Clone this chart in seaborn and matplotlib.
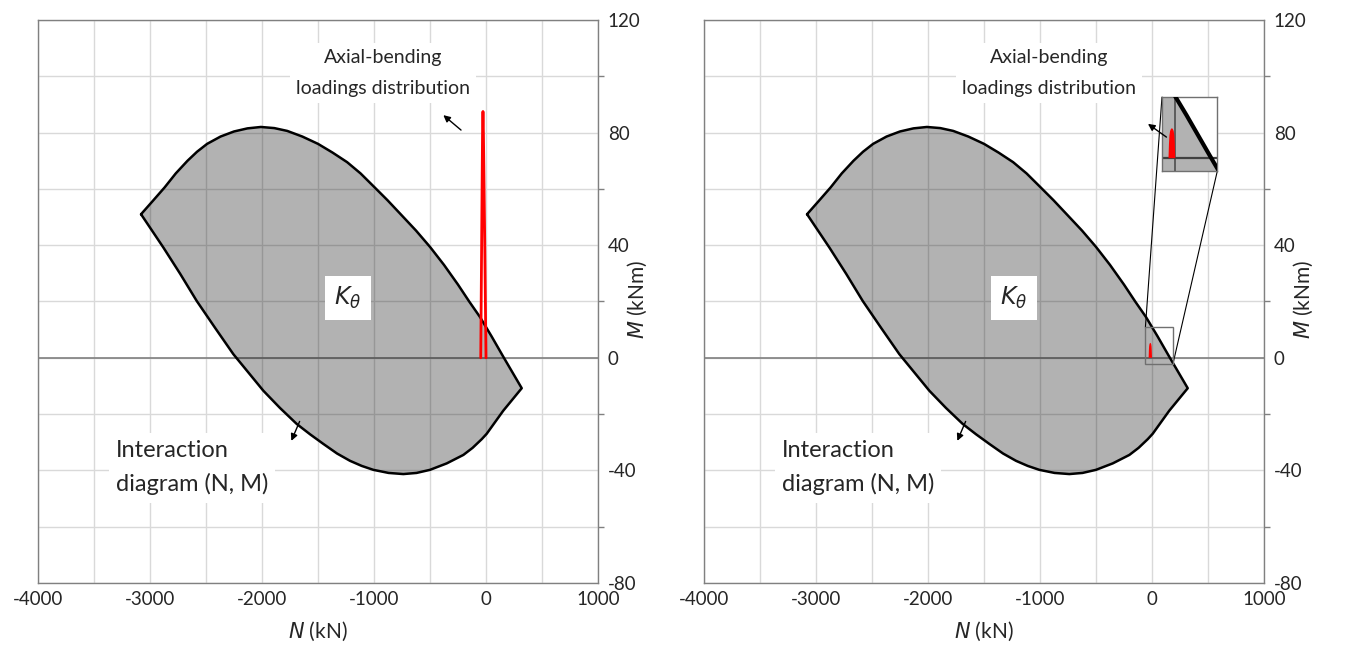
import numpy as np
import matplotlib
matplotlib.use("Agg")
import matplotlib.pyplot as plt
from matplotlib.patches import Rectangle
import seaborn as sns

# Interaction diagram boundary, upper branch (N in kN, M in kNm)
upper_N = [-3080, -2980, -2870, -2770, -2665, -2580, -2490, -2370, -2250, -2130,
           -2010, -1890, -1775, -1640, -1500, -1370, -1240, -1120, -1006, -880,
           -750, -625, -500, -375, -250, -150, -54, 50, 154, 319]
upper_M = [51.0, 55.5, 60.5, 65.5, 70.0, 73.2, 76.0, 78.6, 80.4, 81.5,
           82.0, 81.6, 80.6, 78.6, 76.0, 72.9, 69.5, 65.5, 61.0, 56.0,
           50.5, 45.2, 39.4, 33.0, 26.0, 20.0, 14.5, 7.6, 0.4, -10.8]
# Lower branch, from the right corner back to the left corner
lower_N = [319, 154, 6, -38, -120, -202, -350, -500, -620, -738,
           -870, -1006, -1110, -1214, -1330, -1452, -1570, -1690, -1840, -1988,
           -2120, -2256, -2420, -2583, -2730, -2881, -3080]
lower_M = [-10.8, -18.8, -27.0, -28.9, -32.0, -34.5, -37.5, -39.8, -40.9, -41.3,
           -40.9, -39.8, -38.4, -36.6, -34.0, -30.6, -27.2, -23.5, -17.8, -11.7,
           -5.3, 1.3, 10.7, 20.2, 29.8, 39.2, 51.0]

# Axial-bending loadings distribution (left chart)
loads_N = [-47, -39, -31, -27, -23, -11, 0]
loads_M = [0.0, 40.0, 80.0, 87.5, 80.0, 40.0, 0.0]

# Axial-bending loadings distribution (right chart)
loads2_N = [-30, -28, -26, -23, -20, -17, -15, -13, -10, -7, -4, -2, 0]
loads2_M = [0.0, 2.5, 4.0, 4.8, 5.1, 5.25, 5.3, 5.25, 5.1, 4.8, 4.0, 2.5, 0.0]

x_ticks = [-4000, -3000, -2000, -1000, 0, 1000]
y_ticks = [-80, -40, 0, 40, 80, 120]

txt_loads = "Axial-bending\nloadings distribution"
txt_diag = "Interaction\ndiagram (N, M)"
txt_k = r"$K_{\theta}$"

sns.set_theme(style="white")
plt.rcParams["font.family"] = ["Lato", "DejaVu Sans"]

fig = plt.figure(figsize=(13.51, 6.45), dpi=100)
ax1 = fig.add_axes([38 / 1351, 62 / 645, 560 / 1351, 563 / 645])
ax2 = fig.add_axes([704 / 1351, 62 / 645, 560 / 1351, 563 / 645])

bound_N = upper_N + lower_N[1:]
bound_M = upper_M + lower_M[1:]

GRID = "#d9d9d9"
SPINE = "#808080"
TICK_FS = 13.5
LABEL_FS = 15


def draw_diagram(ax, lw=1.8, zero_lw=1.2):
    ax.fill(bound_N, bound_M, color="black", alpha=0.3, lw=0, zorder=2)
    ax.axhline(0, color="#808080", lw=zero_lw, zorder=1.5)
    sns.lineplot(x=bound_N, y=bound_M, sort=False, estimator=None,
                 color="black", lw=lw, ax=ax, zorder=3)


def style_axes(ax):
    ax.set_xlim(-4000, 1000)
    ax.set_ylim(-80, 120)
    ax.set_xticks(x_ticks)
    ax.set_xticks(np.arange(-4000, 1001, 500), minor=True)
    ax.set_yticks(y_ticks)
    ax.set_yticks(np.arange(-80, 121, 20), minor=True)
    ax.set_xticklabels([str(v) for v in x_ticks], fontsize=TICK_FS)
    ax.set_yticklabels([str(v) for v in y_ticks], fontsize=TICK_FS)
    ax.yaxis.tick_right()
    ax.set_axisbelow(True)
    ax.grid(True, which="both", color=GRID, lw=1, zorder=0)
    ax.tick_params(axis="x", which="both", length=0, pad=6)
    ax.tick_params(axis="y", which="major", length=0, pad=7)
    ax.tick_params(axis="y", which="minor", length=4, width=1, color=SPINE,
                   direction="out", right=True, left=False)
    for s in ax.spines.values():
        s.set_color(SPINE)
        s.set_linewidth(1)
    ax.set_xlabel(r"$\it{N}$ (kN)", fontsize=LABEL_FS, labelpad=8)
    ax.set_ylabel("")
    ax.text(1.07, 0.503, r"$\it{M}$ (kNm)", transform=ax.transAxes,
            rotation=90, ha="center", va="center", fontsize=LABEL_FS)


def annotate_common(ax, arrow_tail, arrow_head):
    box = dict(boxstyle="square,pad=0.3", fc="white", ec="none")
    ax.text(-920, 101.2, txt_loads, ha="center", va="center",
            multialignment="center", fontsize=14, bbox=box, zorder=6,
            linespacing=2.0)
    ax.text(-3304, -39, txt_diag, ha="left", va="center",
            multialignment="left", fontsize=17, bbox=box, zorder=6,
            linespacing=1.7)
    ax.text(-1232, 21.3, txt_k, ha="center", va="center", fontsize=17,
            bbox=dict(boxstyle="square,pad=0.38", fc="white", ec="none"),
            zorder=6)
    arrow = dict(arrowstyle="-|>", color="black", lw=1, mutation_scale=10,
                 shrinkA=0, shrinkB=0)
    ax.annotate("", xy=(-1738, -29.5), xytext=(-1664, -22.6),
                arrowprops=arrow, zorder=7)
    ax.annotate("", xy=arrow_head, xytext=arrow_tail,
                arrowprops=arrow, zorder=7)


# Left chart: full-scale loading distribution
draw_diagram(ax1)
sns.lineplot(x=loads_N, y=loads_M, sort=False, estimator=None,
             color="red", lw=2, ax=ax1, zorder=4)
style_axes(ax1)
annotate_common(ax1, (-223, 80.9), (-381, 86.2))

# Right chart: scaled loading distribution with a zoomed window
draw_diagram(ax2)
ax2.fill(loads2_N, loads2_M, color="red", lw=0, zorder=4)
style_axes(ax2)

zoom_x = (-59, 187)
zoom_y = (-2.2, 10.8)
ins_x = (89, 584)
ins_y = (66.5, 92.6)

axins = ax2.inset_axes([ins_x[0], ins_y[0], ins_x[1] - ins_x[0], ins_y[1] - ins_y[0]],
                       transform=ax2.transData, zorder=5)
axins.set_facecolor("white")
axins.fill(bound_N, bound_M, color="black", alpha=0.3, lw=0, zorder=2)
axins.axvline(0, color="#707070", lw=1.2, zorder=1.5)
axins.axhline(0, color="#404040", lw=1.6, zorder=2.5)
sns.lineplot(x=bound_N, y=bound_M, sort=False, estimator=None,
             color="black", lw=3, ax=axins, zorder=3)
axins.fill(loads2_N, loads2_M, color="red", lw=0, zorder=4)
axins.set_xlim(*zoom_x)
axins.set_ylim(*zoom_y)
axins.set_xticks([])
axins.set_yticks([])
axins.set_xlabel("")
axins.set_ylabel("")
for s in axins.spines.values():
    s.set_color("#707070")
    s.set_linewidth(1)

ax2.add_patch(Rectangle((zoom_x[0], zoom_y[0]), zoom_x[1] - zoom_x[0],
                        zoom_y[1] - zoom_y[0], fill=False, ec="#707070",
                        lw=1, zorder=6))
ax2.plot([zoom_x[0], ins_x[0]], [zoom_y[1], ins_y[1]], color="black", lw=0.8, zorder=4.5)
ax2.plot([zoom_x[1], ins_x[1]], [zoom_y[0], ins_y[0]], color="black", lw=0.8, zorder=4.5)

annotate_common(ax2, (129, 78.4), (-36, 83.1))

fig.savefig("out.png", dpi=100)
